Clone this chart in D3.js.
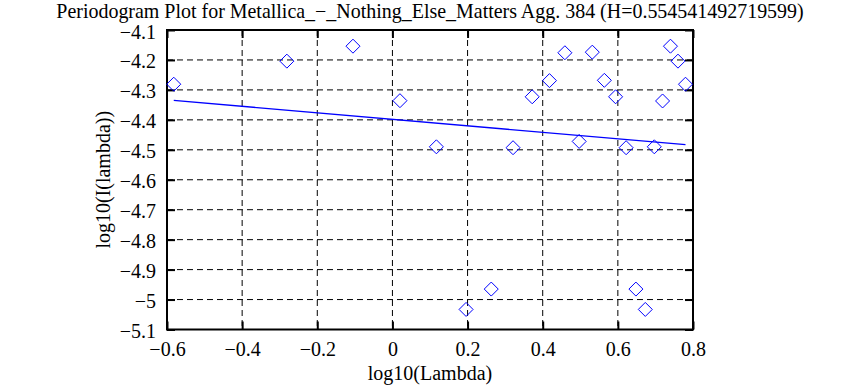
<!DOCTYPE html>
<html><head><meta charset="utf-8">
<script src="https://cdn.jsdelivr.net/npm/d3@7/dist/d3.min.js"></script>
<style>body{margin:0;background:#fff}svg{display:block}</style>
</head><body><svg id="c" width="861" height="385"></svg>
<script>
const title = "Periodogram Plot for Metallica_\u2212_Nothing_Else_Matters Agg. 384 (H=0.554541492719599)";
const xLabel = "log10(Lambda)";
const yLabel = "log10(I(lambda))";
const xTicks = [-0.6,-0.4,-0.2,0,0.2,0.4,0.6,0.8];
const yTicks = [-4.1,-4.2,-4.3,-4.4,-4.5,-4.6,-4.7,-4.8,-4.9,-5,-5.1];
const logLambda = [-0.582,-0.281,-0.105,0.020,0.117,0.196,0.263,0.321,0.372,0.418,0.459,0.497,0.532,0.564,0.594,0.622,0.648,0.673,0.697,0.719,0.740,0.760,0.780];
const logI = [-4.281,-4.204,-4.154,-4.336,-4.490,-5.033,-4.965,-4.493,-4.323,-4.269,-4.176,-4.472,-4.174,-4.268,-4.323,-4.493,-4.965,-5.033,-4.490,-4.337,-4.154,-4.204,-4.281];
const fitX = [-0.582, 0.780];
const fitY = [-4.335, -4.483];

const FONT = "Liberation Serif";
const FS = 20;
const svg = d3.select("#c");
const L=167, R=693, T=30, B=329.5;
const x = d3.scaleLinear().domain([-0.6,0.8]).range([L,R]);
const y = d3.scaleLinear().domain([-5.1,-4.1]).range([B,T]);
const fmt = v => (v<0?"\u2212":"") + String(Math.abs(v));
const styleText = sel => sel.attr("font-family",FONT).attr("font-size",FS).attr("fill","#000");

// grid
const g = svg.append("g");
g.selectAll("line.gx").data(xTicks.slice(1,-1)).join("line")
  .attr("x1",d=>x(d)).attr("x2",d=>x(d)).attr("y1",T).attr("y2",B)
  .attr("stroke","#000").attr("stroke-width",1).attr("stroke-dasharray","6,4");
g.selectAll("line.gy").data(yTicks.slice(1,-1)).join("line")
  .attr("y1",d=>y(d)).attr("y2",d=>y(d)).attr("x1",L).attr("x2",R)
  .attr("stroke","#000").attr("stroke-width",1).attr("stroke-dasharray","6,4");

// axes with inward ticks, mirrored
const tl = 8;
svg.append("g").attr("transform",`translate(0,${B})`)
  .call(d3.axisBottom(x).tickValues(xTicks).tickFormat(fmt).tickSizeInner(-tl).tickSizeOuter(0).tickPadding(12))
  .call(a=>{a.attr("font-family",null).attr("font-size",null);a.select(".domain").remove();a.selectAll("line").attr("stroke-width",2);styleText(a.selectAll("text"));});
svg.append("g").attr("transform",`translate(0,${T})`)
  .call(d3.axisTop(x).tickValues(xTicks).tickFormat("").tickSizeInner(-tl).tickSizeOuter(0))
  .call(a=>{a.select(".domain").remove();a.selectAll("line").attr("stroke-width",2);});
svg.append("g").attr("transform",`translate(${L},0)`)
  .call(d3.axisLeft(y).tickValues(yTicks).tickFormat(fmt).tickSizeInner(-tl).tickSizeOuter(0).tickPadding(11))
  .call(a=>{a.attr("font-family",null).attr("font-size",null);a.select(".domain").remove();a.selectAll("line").attr("stroke-width",2);styleText(a.selectAll("text")).attr("dy","0.4em");});
svg.append("g").attr("transform",`translate(${R},0)`)
  .call(d3.axisRight(y).tickValues(yTicks).tickFormat("").tickSizeInner(-tl).tickSizeOuter(0))
  .call(a=>{a.select(".domain").remove();a.selectAll("line").attr("stroke-width",2);});

svg.append("rect").attr("x",L).attr("y",T).attr("width",R-L).attr("height",B-T)
  .attr("fill","none").attr("stroke","#000").attr("stroke-width",2);

// fit line
svg.append("line").attr("x1",x(fitX[0])).attr("y1",y(fitY[0])).attr("x2",x(fitX[1])).attr("y2",y(fitY[1]))
  .attr("stroke","#0000ff").attr("stroke-width",1.3);

// points
const s = 7;
svg.selectAll("path.pt").data(logLambda).join("path")
  .attr("d",(d,i)=>{const cx=x(d), cy=y(logI[i]);return `M${cx},${cy-s}L${cx+s},${cy}L${cx},${cy+s}L${cx-s},${cy}Z`;})
  .attr("fill","none").attr("stroke","#0000ff").attr("stroke-width",1);

const t = styleText(svg.append("text").attr("x",(L+R)/2).attr("y",17.5).attr("text-anchor","middle")).text(title);
const w = t.node().getComputedTextLength();
if (w > 0) t.attr("font-size", Math.min(22, FS*748/w));
styleText(svg.append("text").attr("x",(L+R)/2).attr("y",380).attr("text-anchor","middle")).text(xLabel);
styleText(svg.append("text").attr("transform",`translate(110,${(T+B)/2}) rotate(-90)`).attr("text-anchor","middle")).text(yLabel);
</script></body></html>
